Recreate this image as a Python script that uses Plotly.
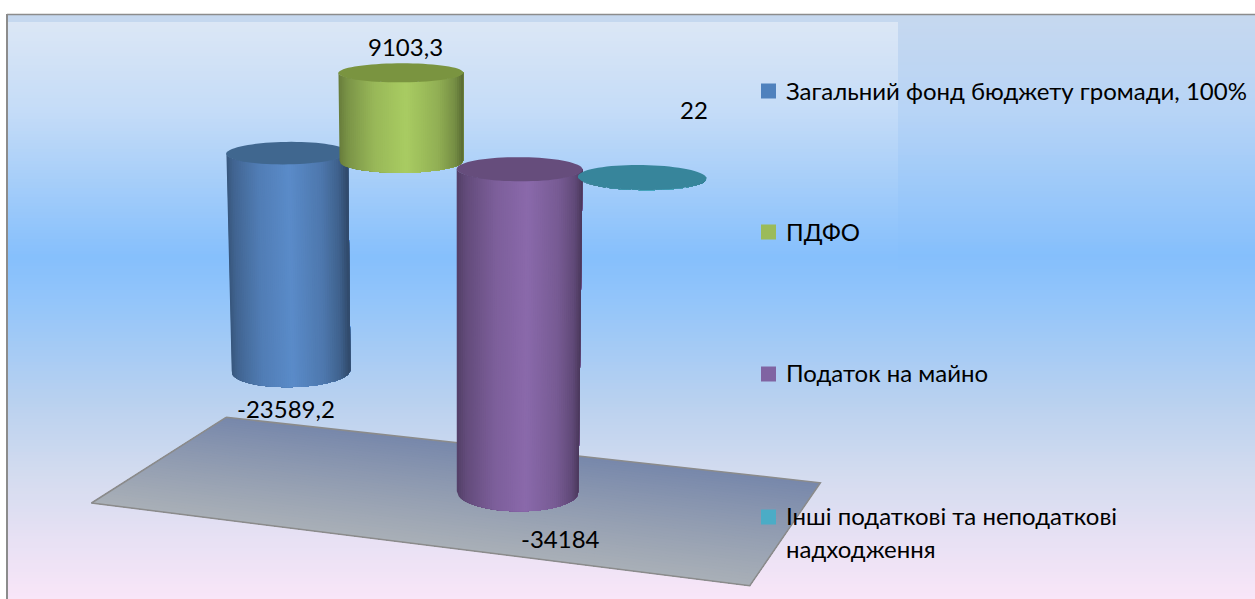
import math
import plotly.graph_objects as go

# ---- data ----
categories = ["Загальний фонд бюджету громади, 100%", "ПДФО", "Податок на майно",
              "Інші податкові та неподаткові надходження"]
values = [-23589.2, 9103.3, -34184, 22]
value_labels = ["-23589,2", "9103,3", "-34184", "22"]
legend_lines = [["Загальний фонд бюджету громади, 100%"], ["ПДФО"], ["Податок на майно"],
                ["Інші податкові та неподаткові", "надходження"]]

# ---- style ----
peak = ["#5a8bc9", "#a9cc62", "#8a69ab", "#4bacc6"]
cap = ["#40678f", "#7a9440", "#664d7c", "#37859b"]
swatch = ["#4f81bd", "#9bbb59", "#8064a2", "#4bacc6"]
FONT = "Lato, 'Open Sans', 'Noto Sans', sans-serif"
FS = 24

# ---- camera of the 3-D look ----
W, H = 1255, 599
AZ, EL, D = math.radians(20), math.radians(14.2), 2400
CX, CY = 460, 301.5
SPACING, RADIUS, K, Z0 = 124, 61.5, 0.0097, 139
FLOOR_VALUE, FLOOR_LX, FLOOR_LY = -35450, 680, 316
FLOOR_X0, FLOOR_Y0 = -3, 10


def project(x, y, value):
    z = value * K + Z0
    xr = x * math.cos(AZ) + y * math.sin(AZ)
    yr = -x * math.sin(AZ) + y * math.cos(AZ)
    depth = D + yr * math.cos(EL) - z * math.sin(EL)
    v = z * math.cos(EL) + yr * math.sin(EL)
    s = D / depth
    return CX + s * xr, CY - s * v


def hex2rgb(c):
    return [int(c[i:i + 2], 16) for i in (1, 3, 5)]


def rgb(c):
    return "rgb(%d,%d,%d)" % tuple(round(v) for v in c)


def ramp(stops, t):
    for (a, ca), (b, cb) in zip(stops, stops[1:]):
        if t <= b:
            f = (t - a) / (b - a) if b > a else 0
            return [p + (q - p) * f for p, q in zip(ca, cb)]
    return stops[-1][1]


fig = go.Figure()


def poly(pts, color):
    xs = [p[0] for p in pts]
    ys = [p[1] for p in pts]
    fig.add_trace(go.Scatter(x=xs + xs[:1], y=ys + ys[:1], mode="lines", fill="toself",
                             fillcolor=color, line=dict(color=color, width=0, simplify=False),
                             hoverinfo="skip", showlegend=False))


# ---- background ----
BG = [(14, "#c6d8ef"), (110, "#b7d4f6"), (255, "#85bffc"), (300, "#93c5fa"), (400, "#b9d1ef"),
      (470, "#d2dbef"), (540, "#e8e1f4"), (599, "#f9e6f8")]
bg_stops = [(y, hex2rgb(c)) for y, c in BG]
shapes = []
STEP = 3
for y in range(14, H, STEP):
    base = ramp(bg_stops, y)
    shapes.append(dict(type="rect", layer="below", x0=8, x1=W, y0=y, y1=y + STEP, line_width=0,
                       fillcolor=rgb(base)))
    if 22 <= y + STEP and y < 285:
        alpha = 0.38 * max(0.0, 1 - (y - 22) / 263) ** 1.8
        col = [b + (255 - b) * alpha for b in base]
        shapes.append(dict(type="rect", layer="below", x0=8, x1=898, y0=max(y, 22), y1=y + STEP,
                           line_width=0, fillcolor=rgb(col)))
shapes.append(dict(type="line", x0=7, x1=7, y0=14, y1=H, line=dict(color="#8c8c8c", width=2)))
shapes.append(dict(type="line", x0=7, x1=W, y0=14.5, y1=14.5, line=dict(color="#8c8c8c", width=1.5)))
for i, c in enumerate(swatch):
    yc = [91, 232, 374, 517][i]
    shapes.append(dict(type="rect", x0=761, x1=776, y0=yc - 7.5, y1=yc + 7.5, line_width=0, fillcolor=c))

# ---- floor (painted back to front, each band reaching the front edge) ----
back, front = hex2rgb("#7788ab"), hex2rgb("#a9afb7")
N_FLOOR = 40
hx, hy = FLOOR_LX / 2, FLOOR_LY / 2
xl, xr_ = FLOOR_X0 - hx, FLOOR_X0 + hx
yb, yf = FLOOR_Y0 + hy, FLOOR_Y0 - hy
for j in range(N_FLOOR):
    y1 = yb - j * FLOOR_LY / N_FLOOR
    c = rgb([b + (f - b) * (j + .5) / N_FLOOR for b, f in zip(back, front)])
    poly([project(xl, y1, FLOOR_VALUE), project(xr_, y1, FLOOR_VALUE),
          project(xr_, yf, FLOOR_VALUE), project(xl, yf, FLOOR_VALUE)], c)
edge = [project(xl, yb, FLOOR_VALUE), project(xr_, yb, FLOOR_VALUE),
        project(xr_, yf, FLOOR_VALUE), project(xl, yf, FLOOR_VALUE)]
edge.append(edge[0])
fig.add_trace(go.Scatter(x=[p[0] for p in edge], y=[p[1] for p in edge], mode="lines",
                         line=dict(color="#8b8b8b", width=1.5), hoverinfo="skip", showlegend=False))

# ---- cylinders (strips painted left to right, each reaching the right edge) ----
SHADE = [(0, .60), (.08, .72), (.3, .90), (.55, 1.0), (.8, .86), (.93, .70), (1, .52)]
N_STRIPS = 60
Rv = (math.cos(AZ), math.sin(AZ))
Tv = (math.sin(AZ), -math.cos(AZ))


def rim(cx, value, theta):
    px = cx + RADIUS * (math.sin(theta) * Rv[0] + math.cos(theta) * Tv[0])
    py = RADIUS * (math.sin(theta) * Rv[1] + math.cos(theta) * Tv[1])
    return project(px, py, value)


for i, val in enumerate(values):
    cx = (i - 1.5) * SPACING
    top, bottom = max(val, 0), min(val, 0)
    pk = hex2rgb(peak[i])
    thetas = [math.asin(2 * k / N_STRIPS - 1) for k in range(N_STRIPS + 1)]
    for k in range(N_STRIPS):
        f = ramp([(a, [b]) for a, b in SHADE], (k + .5) / N_STRIPS)[0]
        arc = thetas[k:]
        pts = [rim(cx, top, t) for t in arc] + [rim(cx, bottom, t) for t in reversed(arc)]
        poly(pts, rgb([p * f for p in pk]))
    poly([rim(cx, top, 2 * math.pi * n / 72) for n in range(72)], cap[i])

# ---- value labels ----
annotations = []
label_pos = [(286, 408), (405, 46), (560, 538), (694, 109)]
for txt, (x, y) in zip(value_labels, label_pos):
    annotations.append(dict(x=x, y=y, text=txt, showarrow=False, xanchor="center", yanchor="middle",
                            font=dict(family=FONT, size=FS, color="black")))
legend_y = [[90], [231], [372], [515, 548]]
for lines, ys in zip(legend_lines, legend_y):
    for t, y in zip(lines, ys):
        annotations.append(dict(x=784, y=y, text=t, showarrow=False, xanchor="left", yanchor="middle",
                                font=dict(family=FONT, size=FS, color="black")))

fig.update_layout(width=W, height=H, margin=dict(l=0, r=0, t=0, b=0), showlegend=False,
                  paper_bgcolor="white", plot_bgcolor="rgba(0,0,0,0)", shapes=shapes,
                  annotations=annotations,
                  xaxis=dict(range=[0, W], visible=False, fixedrange=True),
                  yaxis=dict(range=[H, 0], visible=False, fixedrange=True))
fig.write_html("out.html", config=dict(displayModeBar=False),
               post_script="document.body.style.margin='0';document.documentElement.style.overflow='hidden';")
